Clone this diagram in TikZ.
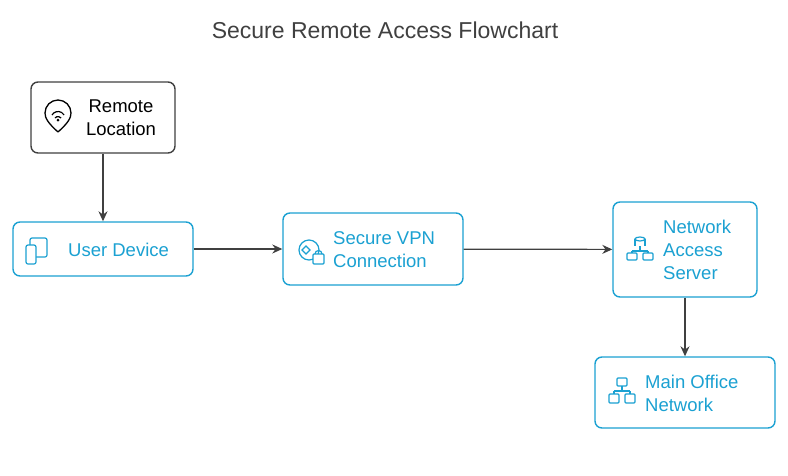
\documentclass[tikz,border=0pt]{standalone}
\usepackage{fontspec}
\setmainfont{Liberation Sans}
\usetikzlibrary{positioning,arrows.meta}
\definecolor{FlowCyan}{HTML}{1BA1D2}
\definecolor{FlowGray}{HTML}{404040}
\tikzset{
  box/.style={draw=FlowCyan, line width=1.4pt, rounded corners=7pt, fill=white},
  darkbox/.style={draw=FlowGray, line width=1.4pt, rounded corners=7pt, fill=white},
  label/.style={font=\fontsize{18.5}{23}\selectfont, text=FlowCyan, align=left, anchor=west, inner sep=0pt},
  flow/.style={-{Stealth[length=10pt,width=9pt]}, draw=FlowGray, line width=1.2pt},
  icon/.style={draw=FlowCyan, line width=1.2pt}
}
\begin{document}
\begin{tikzpicture}[x=1pt,y=-1pt]
        \useasboundingbox (0,0) rectangle (788,475);

        \node[font=\fontsize{23}{27}\selectfont, text=FlowGray] (title) at (385,30) {Secure Remote Access Flowchart};

        % boxes
        \node[darkbox, minimum width=144pt, minimum height=71pt] (remote) at (103,117.5) {};
        \node[box, minimum width=180pt, minimum height=54pt] (user) at (103,249) {};
        \node[box, minimum width=180pt, minimum height=72pt] (vpn) at (373,249) {};
        \node[box, minimum width=144pt, minimum height=95pt] (nas) at (685,249.5) {};
        \node[box, minimum width=180pt, minimum height=71pt] (office) at (685,392.5) {};

        % texts
        \node[label, text=black, align=center, anchor=center] (remotetxt) at (121,118) {Remote\\Location};
        \node[label] (usertxt) at (68,250) {User Device};
        \node[label] (vpntxt) at (333,250) {Secure VPN\\Connection};
        \node[label] (nastxt) at (663,250) {Network\\Access\\Server};
        \node[label] (officetxt) at (645,393) {Main Office\\Network};

        % icons
        \draw[line width=1.3pt] (58,132) .. controls (48,123) and (45,118) .. (45,113)
              arc (180:360:13) .. controls (71,118) and (68,123) .. (58,132);
        \draw[line width=1.2pt] (52,115) arc (210:330:7);
        \draw[line width=1.2pt] (55,118) arc (220:320:4);
        \fill (58,120) circle (1.5);

        \draw[icon, rounded corners=2pt] (30,238) rectangle (47,257);
        \draw[icon, fill=white, rounded corners=2pt] (26,245) rectangle (36,264);

        \draw[icon] (309,250) circle (10);
        \draw[icon] (302,250) -- (306,246) -- (310,250) -- (306,254) -- cycle;
        \draw[icon, fill=white, rounded corners=1pt] (313,254) rectangle (324,264);
        \draw[icon] (315,254) arc (180:360:3.5);

        \draw[icon] (640,239) ellipse (5 and 2);
        \draw[icon] (635,239) -- (635,246) (645,239) -- (645,246);
        \draw[icon] (640,246) -- (640,251) (632,251) -- (648,251);
        \draw[icon, rounded corners=1pt] (627,253) rectangle (637,260);
        \draw[icon, rounded corners=1pt] (643,253) rectangle (653,260);
        \draw[icon] (632,251) -- (632,253) (648,251) -- (648,253);

        \draw[icon, rounded corners=1pt] (617,378) rectangle (627,386);
        \draw[icon] (622,386) -- (622,391) (614,391) -- (630,391) (614,391) -- (614,394) (630,391) -- (630,394);
        \draw[icon, rounded corners=1pt] (609,394) rectangle (619,403);
        \draw[icon, rounded corners=1pt] (625,394) rectangle (635,403);

        % connectors
        \draw[flow] (remote) -- (user);
        \draw[flow] (user) -- (vpn);
        \draw[flow] (vpn) -- (nas);
        \draw[flow] (nas) -- (office);
\end{tikzpicture}
\end{document}
